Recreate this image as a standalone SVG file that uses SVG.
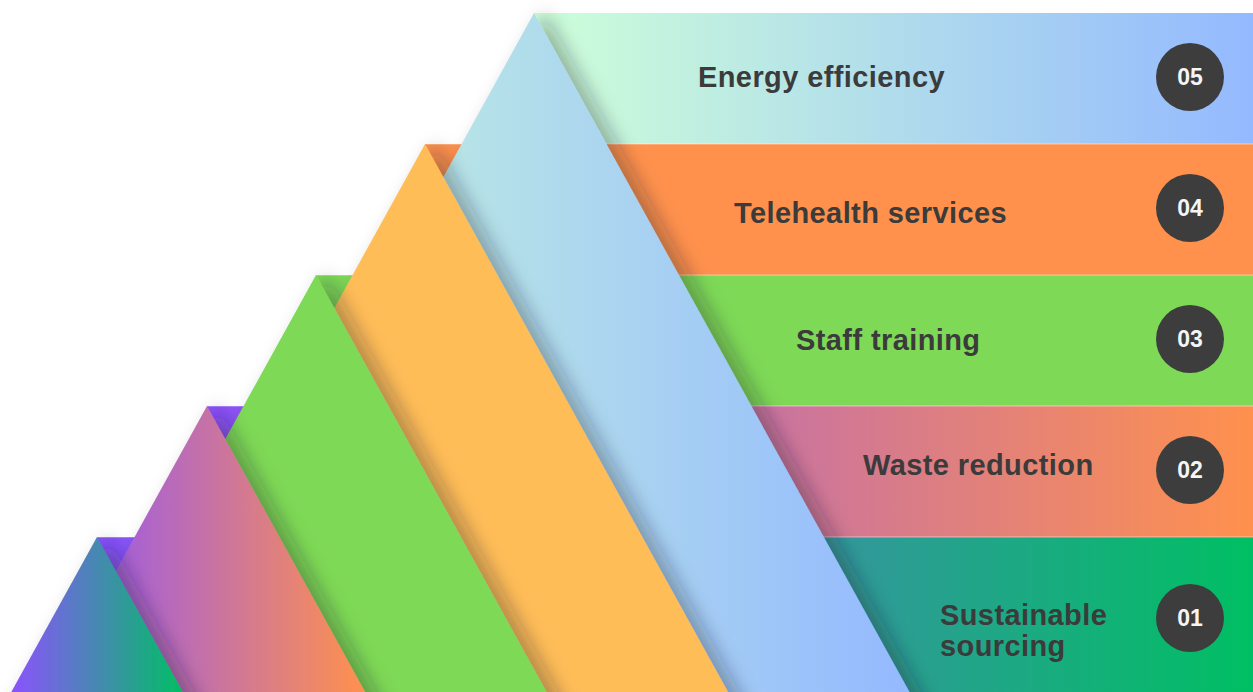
<svg xmlns="http://www.w3.org/2000/svg" width="1253" height="692" viewBox="0 0 1253 692">
  <defs>
    <style>
      .label { font-family: "Liberation Sans", Arial, sans-serif; font-weight: 700; font-size: 29px; letter-spacing: 0.4px; fill: #3b3b3b; }
      .badge { fill: #3d3d3d; }
      .num { font-family: "Liberation Sans", Arial, sans-serif; font-weight: 700; font-size: 23px; fill: #f5f5f5; text-anchor: middle; }
      .seam { stroke: #ffffff; stroke-opacity: 0.5; stroke-width: 1; }
    </style>
    <!-- soft shadow thrown to the right of every peak -->
    <filter id="shade" filterUnits="userSpaceOnUse" x="-100" y="-100" width="1500" height="950">
      <feDropShadow dx="11" dy="0" stdDeviation="9" flood-color="#1a1a2e" flood-opacity="0.32"/>
    </filter>
    <linearGradient id="band5" gradientUnits="userSpaceOnUse" x1="534" y1="0" x2="1253" y2="0">
      <stop offset="0" stop-color="#CDFFD8"/>
      <stop offset="1" stop-color="#94B9FF"/>
    </linearGradient>
    <linearGradient id="peak5" gradientUnits="userSpaceOnUse" x1="159" y1="0" x2="909" y2="0">
      <stop offset="0" stop-color="#CDFFD8"/>
      <stop offset="1" stop-color="#94B9FF"/>
    </linearGradient>
    <linearGradient id="band2" gradientUnits="userSpaceOnUse" x1="207" y1="0" x2="1253" y2="0">
      <stop offset="0" stop-color="#8C52FF"/>
      <stop offset="1" stop-color="#FF914D"/>
    </linearGradient>
    <linearGradient id="peak2" gradientUnits="userSpaceOnUse" x1="49" y1="0" x2="365" y2="0">
      <stop offset="0" stop-color="#8C52FF"/>
      <stop offset="1" stop-color="#FF914D"/>
    </linearGradient>
    <linearGradient id="band1" gradientUnits="userSpaceOnUse" x1="97" y1="0" x2="1253" y2="0">
      <stop offset="0" stop-color="#8C52FF"/>
      <stop offset="1" stop-color="#00BF63"/>
    </linearGradient>
    <linearGradient id="peak1" gradientUnits="userSpaceOnUse" x1="11" y1="0" x2="183" y2="0">
      <stop offset="0" stop-color="#8C52FF"/>
      <stop offset="1" stop-color="#00BF63"/>
    </linearGradient>
  </defs>

  <rect x="0" y="0" width="1253" height="692" fill="#ffffff"/>

  <!-- horizontal bands, each starting at the apex of its peak -->
  <g id="bands">
    <rect x="534" y="13" width="719" height="131" fill="url(#band5)"/>
    <rect x="425" y="144" width="828" height="131" fill="#FF914D"/>
    <rect x="316" y="275" width="937" height="131" fill="#7ED957"/>
    <rect x="207" y="406" width="1046" height="131" fill="url(#band2)"/>
    <rect x="97" y="537" width="1156" height="160" fill="url(#band1)"/>
    <line class="seam" x1="425" y1="144" x2="1253" y2="144"/>
    <line class="seam" x1="316" y1="275" x2="1253" y2="275"/>
    <line class="seam" x1="207" y1="406" x2="1253" y2="406"/>
    <line class="seam" x1="97" y1="537" x2="1253" y2="537"/>
  </g>

  <!-- steps, back (05) to front (01) -->
  <g id="step-05">
    <polygon points="534,13 925,720 143,720" fill="url(#peak5)" filter="url(#shade)"/>
    <text class="label" x="698" y="87">Energy efficiency</text>
    <circle class="badge" cx="1190" cy="77" r="34"/>
    <text class="num" x="1190" y="85">05</text>
  </g>

  <g id="step-04">
    <polygon points="425,144 743.5,720 106.5,720" fill="#FFBD59" filter="url(#shade)"/>
    <text class="label" x="734" y="223">Telehealth services</text>
    <circle class="badge" cx="1190" cy="208" r="34"/>
    <text class="num" x="1190" y="216">04</text>
  </g>

  <g id="step-03">
    <polygon points="316,275 562.1,720 69.9,720" fill="#7ED957" filter="url(#shade)"/>
    <text class="label" x="796" y="350">Staff training</text>
    <circle class="badge" cx="1190" cy="339" r="34"/>
    <text class="num" x="1190" y="347">03</text>
  </g>

  <g id="step-02">
    <polygon points="207,406 380.6,720 33.4,720" fill="url(#peak2)" filter="url(#shade)"/>
    <text class="label" x="863" y="475">Waste reduction</text>
    <circle class="badge" cx="1190" cy="470" r="34"/>
    <text class="num" x="1190" y="478">02</text>
  </g>

  <g id="step-01">
    <polygon points="97,537 198.2,720 -4.2,720" fill="url(#peak1)" filter="url(#shade)"/>
    <text class="label" x="940" y="625">Sustainable</text>
    <text class="label" x="940" y="656">sourcing</text>
    <circle class="badge" cx="1190" cy="618" r="34"/>
    <text class="num" x="1190" y="626">01</text>
  </g>
</svg>
